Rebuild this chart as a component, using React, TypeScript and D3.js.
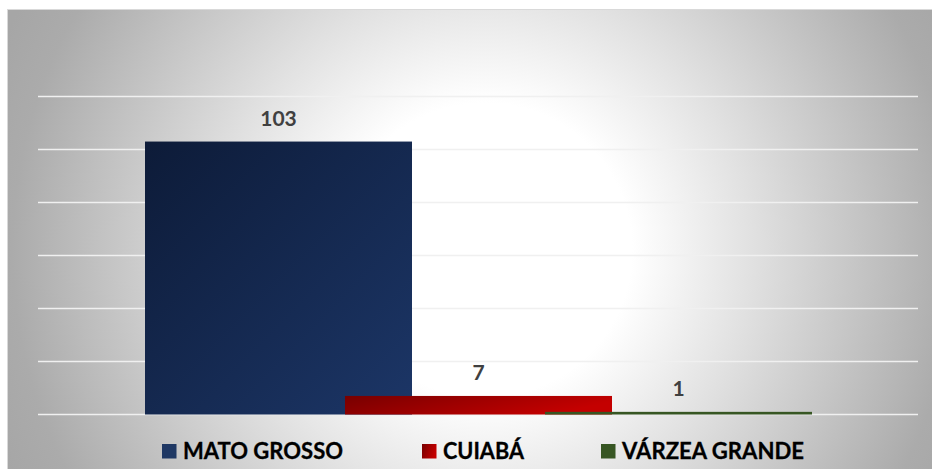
import React from "react";
import * as d3 from "d3";

const categories = ["MATO GROSSO", "CUIABÁ", "VÁRZEA GRANDE"];
const values = [103, 7, 1];
const yTicks = [0, 20, 40, 60, 80, 100, 120];

const W = 932;
const H = 469;
const PLOT = { left: 38, right: 918, top: 96.5, bottom: 414.5 };
const BAR_W = 267;
const CLUSTER = { left: 145, right: 812 };
const LEGEND = {
  y: 444,
  size: 14.5,
  baseline: 458.5,
  squareX: [162, 422, 601],
  textX: [183, 443, 622],
  textLen: [160, 81, 182],
};
const FILLS = ["url(#gNavy)", "url(#gRed)", "#375623"];

export default function App() {
  const y = d3.scaleLinear().domain([0, 120]).range([PLOT.bottom, PLOT.top]);
  const x = d3
    .scalePoint<string>()
    .domain(categories)
    .range([CLUSTER.left + BAR_W / 2, CLUSTER.right - BAR_W / 2]);

  return (
    <svg
      width={W}
      height={H}
      style={{ position: "fixed", left: 0, top: 0, display: "block" }}
      fontFamily="Lato, 'Open Sans', sans-serif"
    >
      <defs>
        <radialGradient id="bg" gradientUnits="userSpaceOnUse" cx={485} cy={250} r={525}>
          <stop offset="0" stopColor="#ffffff" />
          <stop offset="0.28" stopColor="#ffffff" />
          <stop offset="0.5" stopColor="#e2e2e2" />
          <stop offset="0.9" stopColor="#ababab" />
          <stop offset="1" stopColor="#a6a6a6" />
        </radialGradient>
        <linearGradient id="gNavy" x1="0" y1="0" x2="1" y2="1">
          <stop offset="0" stopColor="#0d1b38" />
          <stop offset="1" stopColor="#1c3667" />
        </linearGradient>
        <linearGradient id="gRed" x1="0" y1="0" x2="1" y2="0.3">
          <stop offset="0" stopColor="#780000" />
          <stop offset="1" stopColor="#c40000" />
        </linearGradient>
      </defs>
      <rect x={0} y={0} width={W} height={H} fill="#ffffff" />
      <rect
        x={7.5}
        y={9.5}
        width={W + 10}
        height={H + 10}
        fill="url(#bg)"
        stroke="#d9d9d9"
        strokeWidth={1}
      />
      {yTicks.map((t) => (
        <line
          key={t}
          x1={PLOT.left}
          x2={PLOT.right}
          y1={y(t)}
          y2={y(t)}
          stroke="#f0f0f0"
          strokeWidth={1.6}
        />
      ))}
      {categories.map((c, i) => (
        <rect
          key={c}
          x={(x(c) as number) - BAR_W / 2}
          y={y(values[i])}
          width={BAR_W}
          height={y(0) - y(values[i])}
          fill={FILLS[i]}
        />
      ))}
      {categories.map((c, i) => (
        <text
          key={c + "l"}
          x={x(c) as number}
          y={y(values[i]) - 15.5}
          textAnchor="middle"
          fontSize={21}
          fontWeight="bold"
          fill="#404040"
        >
          {values[i]}
        </text>
      ))}
      {categories.map((c, i) => (
        <g key={c + "lg"}>
          <rect
            x={LEGEND.squareX[i]}
            y={LEGEND.y}
            width={LEGEND.size}
            height={LEGEND.size}
            fill={i === 0 ? "#1f3864" : FILLS[i]}
          />
          <text
            x={LEGEND.textX[i]}
            y={LEGEND.baseline}
            fontSize={23}
            fontWeight="bold"
            fill="#000000"
            stroke="#000000"
            strokeWidth={0.3}
            textLength={LEGEND.textLen[i]}
            lengthAdjust="spacingAndGlyphs"
          >
            {c}
          </text>
        </g>
      ))}
    </svg>
  );
}
